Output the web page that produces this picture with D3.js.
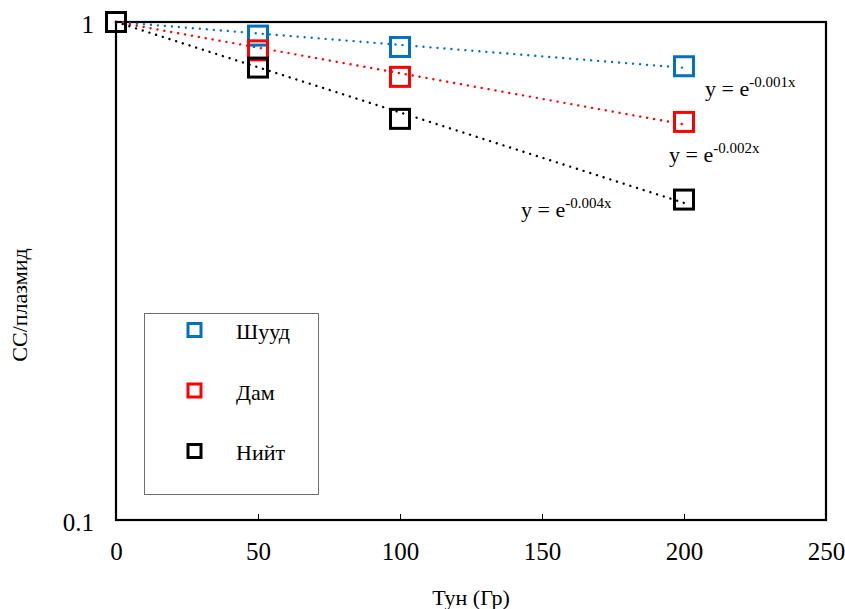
<!DOCTYPE html>
<html>
<head>
<meta charset="utf-8">
<script src="https://cdn.jsdelivr.net/npm/d3@7"></script>
<style>
  body { margin: 0; background: #fff; }
  text { font-family: "Liberation Serif", "Times New Roman", serif; fill: #000; }
</style>
</head>
<body>
<svg id="chart" width="845" height="609"></svg>
<script>
// data
var doses = [0, 50, 100, 200];
var seriesNames = ["Шууд", "Дам", "Нийт"];
var shuud = [1, 0.939, 0.891, 0.815];
var dam = [1, 0.877, 0.776, 0.630];
var niit = [1, 0.810, 0.639, 0.440];
var xTicks = [0, 50, 100, 150, 200, 250];
var yTicks = [0.1, 1];
var colors = ["#0070C0", "#FF0000", "#000000"];

var svg = d3.select("#chart");
var plotLeft = 116, plotRight = 826, plotTop = 22, plotBottom = 520;

var x = d3.scaleLinear().domain([0, 250]).range([plotLeft, plotRight]);
var y = d3.scaleLog().domain([0.1, 1]).range([plotBottom, plotTop]);

var series = [shuud, dam, niit].map(function(vals, i){
    return {
        name: seriesNames[i],
        color: colors[i],
        points: doses.map(function(d, j){ return {x: d, y: vals[j]}; })
    };
});

// exponential fit through (0,1): ln y = b x
series.forEach(function(s){
    var sxy = d3.sum(s.points, function(p){ return p.x * Math.log(p.y); });
    var sxx = d3.sum(s.points, function(p){ return p.x * p.x; });
    s.b = sxy / sxx;
});

/* axes */
svg.append("g")
    .attr("transform", "translate(0," + plotBottom + ")")
    .call(d3.axisBottom(x).tickValues(xTicks).tickSizeInner(-6).tickSizeOuter(0).tickPadding(22))
    .call(function(g){
        g.select(".domain").remove();
        g.selectAll("line").attr("stroke", "#000").attr("stroke-width", 1);
        g.selectAll("text").attr("font-size", "25px").attr("font-family", "Liberation Serif");
    });

svg.append("g")
    .attr("transform", "translate(" + plotLeft + ",0)")
    .call(d3.axisLeft(y).tickValues(yTicks).tickFormat(function(d){ return d; })
        .tickSizeInner(0).tickSizeOuter(0).tickPadding(22))
    .call(function(g){
        g.select(".domain").remove();
        g.selectAll("text").attr("font-size", "25px").attr("dy", "0.42em").attr("font-family", "Liberation Serif");
    });

// frame
svg.append("rect")
    .attr("x", plotLeft).attr("y", plotTop)
    .attr("width", plotRight - plotLeft).attr("height", plotBottom - plotTop)
    .attr("fill", "none").attr("stroke", "#000").attr("stroke-width", 2.2);

/* trend lines */
var line = d3.line()
    .x(function(d){ return x(d.x); })
    .y(function(d){ return y(d.y); });

series.forEach(function(s){
    var xmax = d3.max(s.points, function(p){ return p.x; });
    svg.append("path")
        .datum([{x: 0, y: 1}, {x: xmax, y: Math.exp(s.b * xmax)}])
        .attr("d", line)
        .attr("fill", "none")
        .attr("stroke", s.color)
        .attr("stroke-width", 2.4)
        .attr("stroke-linecap", "round")
        .attr("stroke-dasharray", "0.01,7");
});

/* markers */
series.forEach(function(s){
    svg.append("g").selectAll("rect")
        .data(s.points)
        .enter().append("rect")
        .attr("x", function(d){ return x(d.x) - 9.5; })
        .attr("y", function(d){ return y(d.y) - 9.5; })
        .attr("width", 19).attr("height", 19)
        .attr("fill", "none")
        .attr("stroke", s.color)
        .attr("stroke-width", 3);
});

/* equation labels */
var eqOffsets = [[21, 30], [-15, 40], [-163, 17]];
series.forEach(function(s, i){
    var last = s.points[s.points.length - 1];
    var t = svg.append("text")
        .attr("x", x(last.x) + eqOffsets[i][0])
        .attr("y", y(last.y) + eqOffsets[i][1])
        .attr("font-size", "22px");
    t.append("tspan").text("y = e");
    t.append("tspan").attr("font-size", "15px").attr("dy", "-9")
        .text(s.b.toFixed(3) + "x");
});

/* legend */
var lg = svg.append("g");
lg.append("rect")
    .attr("x", 144.5).attr("y", 313.5)
    .attr("width", 174).attr("height", 181)
    .attr("fill", "#fff").attr("stroke", "#6e6e6e").attr("stroke-width", 1);

series.forEach(function(s, i){
    var cy = 330 + i * 60.5;
    lg.append("rect")
        .attr("x", 188).attr("y", cy - 6.5)
        .attr("width", 13).attr("height", 13)
        .attr("fill", "none").attr("stroke", s.color).attr("stroke-width", 3);
    lg.append("text")
        .attr("x", 236).attr("y", cy + 9)
        .attr("font-size", "22px")
        .text(s.name);
});

/* titles */
svg.append("text")
    .attr("x", (plotLeft + plotRight) / 2).attr("y", 605)
    .attr("text-anchor", "middle")
    .attr("font-size", "22px")
    .text("Тун (Гр)");

svg.append("text")
    .attr("transform", "translate(27,305) rotate(-90)")
    .attr("text-anchor", "middle")
    .attr("font-size", "22px")
    .text("СС/плазмид");
</script>
</body>
</html>
